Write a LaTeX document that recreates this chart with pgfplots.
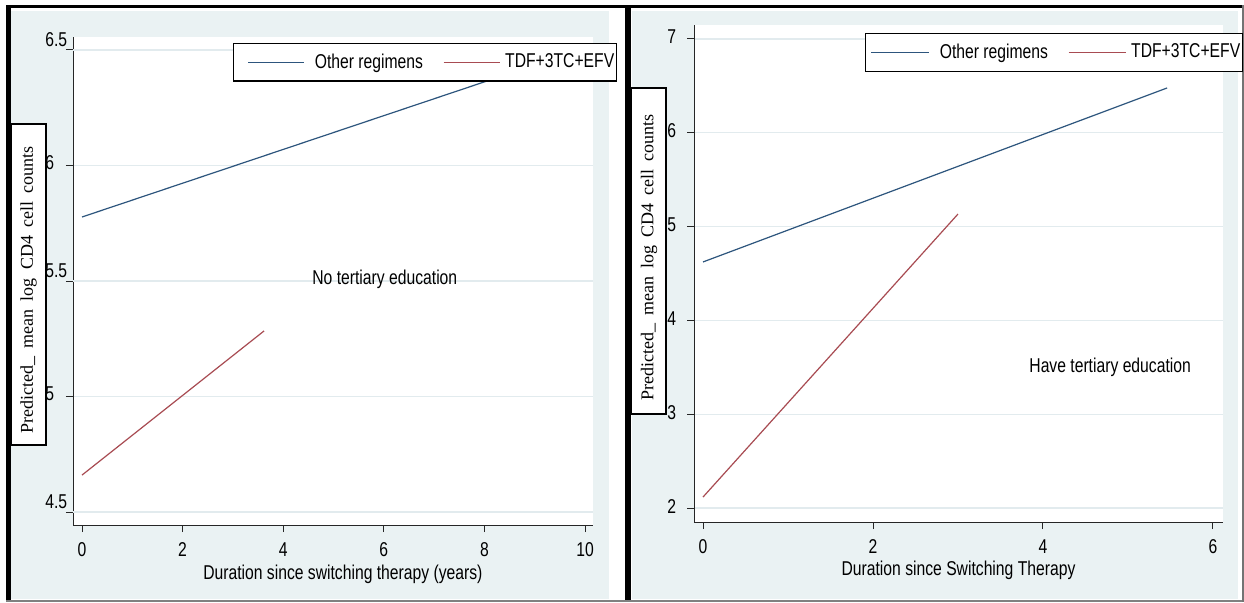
\documentclass[border=0pt]{standalone}
\usepackage{pgfplots}
\pgfplotsset{compat=1.18}
\usepackage{fontspec}
\setmainfont{Liberation Sans}[FakeStretch=0.785]
\newfontfamily\serifff{Liberation Serif}
\definecolor{bg}{RGB}{234,242,243}
\definecolor{gridc}{RGB}{226,235,238}
\definecolor{navyc}{RGB}{45,85,125}
\definecolor{maroonc}{RGB}{168,75,82}

\pgfplotsset{
  legA/.style={legend image code/.code={\path (0pt,0pt); \draw[##1] (6pt,0pt) -- (34pt,0pt);}},
  legB/.style={legend image code/.code={\draw[##1] (0pt,0pt) -- (28pt,0pt);}},
  legC/.style={legend image code/.code={\path (0pt,0pt); \draw[##1] (1.5pt,0pt) -- (30.5pt,0pt);}},
  legD/.style={legend image code/.code={\draw[##1] (0pt,0pt) -- (28.5pt,0pt);}},
  stata/.style={
    scale only axis,
    axis lines*=left,
    axis background/.style={fill=white},
    axis line style={black!85, line width=0.5pt},
    tick align=outside,
    major tick length=3.5pt,
    tick style={black!85, line width=0.5pt},
    ymajorgrids,
    major grid style={gridc, line width=0.6pt},
    tick label style={font=\fontsize{10}{12}\selectfont, inner sep=0pt},
    /pgf/number format/assume math mode=true,
    xticklabel style={yshift=-5pt},
    label style={font=\fontsize{10}{12}\selectfont},
    legend style={draw=black, fill=white, line width=0.6pt, inner xsep=1pt, inner ysep=5pt,
      font=\fontsize{10}{12}\selectfont, nodes={inner sep=0pt}, legend columns=2,
      /tikz/column 1/.style={column sep=5pt},
      /tikz/column 2/.style={column sep=10pt},
      /tikz/column 3/.style={column sep=2.5pt}},
    legend cell align=left,
  }
}

\begin{document}
\begin{tikzpicture}
\fill[white] (0,0) rectangle (622pt,301pt);
\fill[bg] (5.5pt,1.5pt) rectangle (304.5pt,295.5pt);
\fill[bg] (316pt,1.5pt) rectangle (619pt,295.5pt);
\fill[black] (3pt,297pt) rectangle (622pt,298.5pt);
\fill[black] (3pt,0.5pt) rectangle (5.25pt,298.5pt);
\fill[black] (312.5pt,0.5pt) rectangle (315.5pt,298.5pt);
\fill[black!50] (3pt,0pt) rectangle (622pt,1pt);
\fill[black!55] (621pt,0pt) rectangle (622pt,298.5pt);

% left panel
\begin{axis}[stata, at={(36.5pt,38.5pt)}, anchor=south west, width=260pt, height=244pt,
  xmin=-0.179, xmax=10.159, ymin=4.444, ymax=6.556,
  xtick={0,2,4,6,8,10}, xticklabels={0,2,4,6,8,10},
  ytick={5,6}, yticklabels={5,6},
  extra y ticks={4.5,5.5,6.5}, extra y tick labels={4.5,5.5,6.5},
  extra y tick style={grid=major, yticklabel style={yshift=3.5pt}},
  yticklabel style={anchor=west, xshift=-10.5pt, yshift=1.5pt},
  xlabel={Duration since switching therapy (years)},
  xlabel style={at={(axis description cs:0.519,0)}, anchor=base, yshift=-27pt},
  legend style={at={(axis description cs:0.3077,0.9877)}, anchor=north west},
]
\addplot[navyc, line width=0.6pt, legA] coordinates {(0,5.777) (10,6.508)};
\addlegendentry{Other regimens}
\addplot[maroonc, line width=0.6pt, legB] coordinates {(0,4.660) (3.62,5.284)};
\addlegendentry{TDF+3TC+EFV}
\node[font=\fontsize{10}{12}\selectfont] at (axis cs:6.02,5.509) {No tertiary education};
\end{axis}

% right panel
\begin{axis}[stata, at={(347pt,40pt)}, anchor=south west, width=264.5pt, height=248.5pt,
  xmin=-0.106, xmax=6.118, ymin=1.851, ymax=7.149,
  xtick={0,2,4,6}, xticklabels={0,2,4,6},
  ytick={2,3,4,5,6,7}, yticklabels={2,3,4,5,6,7},
  yticklabel style={anchor=west, xshift=-10pt, yshift=1pt},
  xlabel={Duration since Switching Therapy},
  xlabel style={at={(axis description cs:0.5,0)}, anchor=base, yshift=-26.5pt},
  legend style={at={(axis description cs:0.3233,0.9839)}, anchor=north west},
]
\addplot[navyc, line width=0.6pt, legC] coordinates {(0,4.623) (5.46,6.478)};
\addlegendentry{Other regimens}
\addplot[maroonc, line width=0.6pt, legD] coordinates {(0,2.117) (3.0,5.134)};
\addlegendentry{TDF+3TC+EFV}
\node[font=\fontsize{10}{12}\selectfont] at (axis cs:4.79,3.503) {Have tertiary education};
\end{axis}

% y-label boxes
\draw[black, line width=0.6pt, fill=white] (5.5pt,78.5pt) rectangle (23pt,239pt);
\node[rotate=90, inner sep=0pt] at (14.25pt,156pt) {\serifff\fontsize{9}{11}\selectfont\spaceskip=0.45em plus 0.1em Predicted\_ mean log CD4 cell counts};
\draw[black, line width=0.6pt, fill=white] (315.5pt,94pt) rectangle (333pt,257pt);
\node[rotate=90, inner sep=0pt] at (324.5pt,172.25pt) {\serifff\fontsize{9}{11}\selectfont\spaceskip=0.45em plus 0.1em Predicted\_ mean log CD4 cell counts};

\pgfresetboundingbox
\useasboundingbox (0,0) rectangle (622pt,301pt);
\end{tikzpicture}
\end{document}
